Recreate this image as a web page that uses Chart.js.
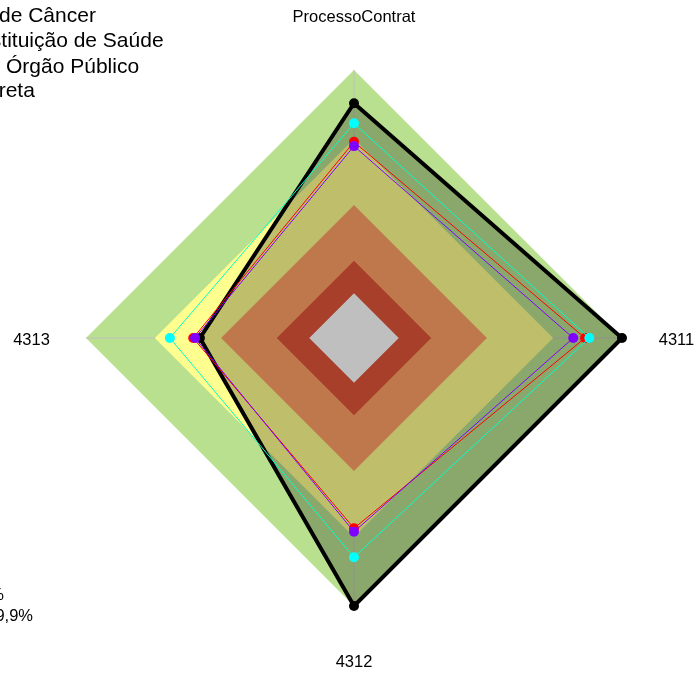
<!DOCTYPE html>
<html>
<head>
<meta charset="utf-8">
<script src="https://cdn.jsdelivr.net/npm/chart.js@4"></script>
<style>
  html, body { margin: 0; padding: 0; background: #ffffff; }
  #wrap { width: 696px; height: 673px; position: relative; }
</style>
</head>
<body>
<div id="wrap"><canvas id="c" width="696" height="673"></canvas></div>
<script>
// Axes of the radar, clockwise from the top
const categories = ['ProcessoContrat', '4311', '4312', '4313'];

// Background performance bands (outer to inner), as % of the axis
const bandLevels = [100, 74.3, 49.6, 28.8, 16.7];
const bandColors = ['#B9E08F', '#FFFF8F', '#FFA065', '#E05538', '#FFFFFF'];

// Series values (%)
const seriesNames = ['Hospital de Câncer', 'Instituição de Saúde', 'Outro Órgão Público', 'Compra Direta'];
const valuesBlack  = [87.6, 100, 100, 57.5];
const valuesCyan   = [80.1, 87.8, 81.8, 68.7];
const valuesRed    = [73.2, 86.2, 71.0, 60.0];
const valuesPurple = [71.6, 81.8, 72.3, 59.3];

// Band legend lines in the lower-left corner
const bandLegend = ['100%', '75% - 99,9%'];

const FONT = '"Liberation Sans", Arial, Helvetica, sans-serif';

const bandDatasets = bandLevels.map((lvl, i) => ({
  label: 'band' + i,
  data: categories.map(() => lvl),
  fill: 'origin',
  backgroundColor: bandColors[i],
  borderWidth: 0,
  borderColor: 'rgba(0,0,0,0)',
  pointRadius: 0,
  order: 20 - i
}));

const seriesDatasets = [
  { label: seriesNames[0], data: valuesBlack, fill: 'origin',
    backgroundColor: 'rgba(0,0,0,0.25)', borderColor: '#000000', borderWidth: 4,
    pointRadius: 5, pointBackgroundColor: '#000000', pointBorderWidth: 0, order: 4 },
  { label: seriesNames[1], data: valuesRed, fill: false,
    borderColor: '#FF0000', borderWidth: 1,
    pointRadius: 5, pointBackgroundColor: '#FF0000', pointBorderWidth: 0, order: 3 },
  { label: seriesNames[2], data: valuesPurple, fill: false,
    borderColor: '#8000FF', borderWidth: 1,
    pointRadius: 5, pointBackgroundColor: '#8000FF', pointBorderWidth: 0, order: 2 },
  { label: seriesNames[3], data: valuesCyan, fill: false,
    borderColor: '#00FFCC', borderWidth: 1,
    pointRadius: 5, pointBackgroundColor: '#00FFFF', pointBorderWidth: 0, order: 1 }
];

// Spokes drawn right after the innermost band, so they sit above the bands
const spokes = {
  id: 'spokes',
  afterDatasetDraw(chart, args) {
    if (args.index !== bandLevels.length - 1) return;
    const r = chart.scales.r;
    const ctx = chart.ctx;
    ctx.save();
    ctx.strokeStyle = '#C0C0C0';
    ctx.lineWidth = 1;
    categories.forEach((_, i) => {
      const p = r.getPointPositionForValue(i, r.max);
      ctx.beginPath();
      ctx.moveTo(r.xCenter, r.yCenter);
      ctx.lineTo(p.x, p.y);
      ctx.stroke();
    });
    ctx.restore();
  }
};

// Axis names and the legend text
const labelsAndLegend = {
  id: 'labelsAndLegend',
  afterDraw(chart) {
    const r = chart.scales.r;
    const ctx = chart.ctx;
    ctx.save();
    ctx.fillStyle = '#000000';
    ctx.font = '16.5px ' + FONT;
    ctx.textAlign = 'center';
    ctx.textBaseline = 'alphabetic';
    categories.forEach((name, i) => {
      const p = r.getPointPosition(i, r.drawingArea + 54.5);
      ctx.fillText(name, p.x, p.y + 6.5);
    });

    // series legend (top-left), runs past the left edge
    ctx.font = '21px ' + FONT;
    ctx.textAlign = 'left';
    const cuts = [['Hospital ', -1, 22], ['Ins', 1.3, 47], ['Outro ', 6, 73], ['Compra Di', -1.3, 97]];
    seriesNames.forEach((name, i) => {
      const [pre, x, y] = cuts[i];
      ctx.fillText(name, x - ctx.measureText(pre).width, y);
    });

    // band legend (bottom-left)
    ctx.font = '16.5px ' + FONT;
    ctx.textAlign = 'right';
    ctx.fillText(bandLegend[0], 4, 600);
    ctx.fillText(bandLegend[1], 33, 621);
    ctx.restore();
  }
};

new Chart(document.getElementById('c'), {
  type: 'radar',
  data: {
    labels: categories,
    datasets: [...seriesDatasets, ...bandDatasets]
  },
  options: {
    responsive: false,
    animation: false,
    layout: { padding: { left: 20, right: 8, top: 70, bottom: 66 } },
    plugins: { legend: { display: false }, tooltip: { enabled: false } },
    elements: { line: { tension: 0 } },
    scales: {
      r: {
        min: 0,
        max: 100,
        ticks: { display: false },
        grid: { display: false },
        angleLines: { display: false },
        pointLabels: { display: false }
      }
    }
  },
  plugins: [spokes, labelsAndLegend]
});
</script>
</body>
</html>
